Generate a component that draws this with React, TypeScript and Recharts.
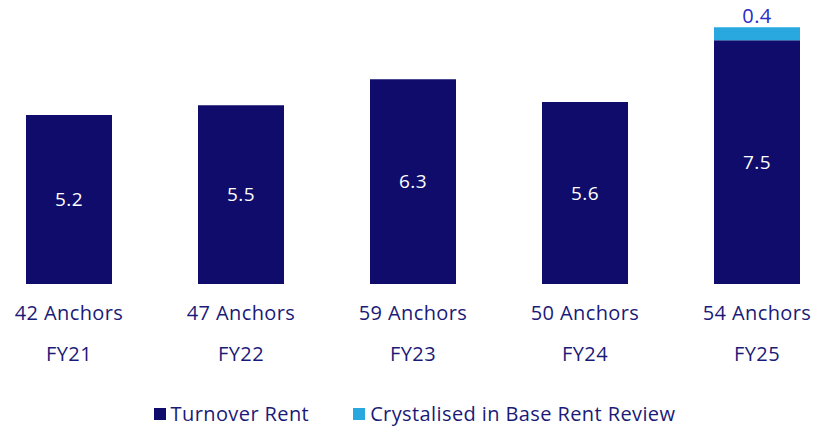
import React from "react";
import { BarChart, Bar, XAxis, YAxis, LabelList } from "recharts";

const categories = ["FY21", "FY22", "FY23", "FY24", "FY25"];
const anchors = ["42 Anchors", "47 Anchors", "59 Anchors", "50 Anchors", "54 Anchors"];
const turnoverRent = [5.2, 5.5, 6.3, 5.6, 7.5];
const crystalised: (number | null)[] = [null, null, null, null, 0.4];

const NAVY = "#0f0c6b";
const LIGHT = "#29a8e0";
const TEXT = "#1b1a78";
const FONT = "'Open Sans', 'Noto Sans', sans-serif";

const data = categories.map((c, i) => ({
  name: c,
  anchors: anchors[i],
  turnover: turnoverRent[i],
  crystalised: crystalised[i],
}));

const Tick = (props: any) => {
  const { x, y, payload, index } = props;
  return (
    <g>
      <text x={x} y={y + 36} textAnchor="middle" fill={TEXT} fontSize={20} letterSpacing={0.4} fontFamily={FONT}>
        {anchors[index]}
      </text>
      <text x={x} y={y + 77} textAnchor="middle" fill={TEXT} fontSize={20} letterSpacing={0.4} fontFamily={FONT}>
        {payload.value}
      </text>
    </g>
  );
};

export default function App() {
  return (
    <div style={{ position: "fixed", left: 0, top: 0, width: 829, height: 427, overflow: "hidden", background: "#fff" }}>
      <div style={{ position: "absolute", left: -17, top: 0 }}>
        <BarChart width={860} height={427} data={data} margin={{ top: 24, right: 0, left: 0, bottom: 0 }}>
          <XAxis dataKey="name" axisLine={false} tickLine={false} tickSize={0} tickMargin={0} height={143} tick={<Tick />} interval={0} />
          <YAxis hide domain={[0, 8]} />
          <Bar dataKey="turnover" stackId="a" fill={NAVY} barSize={86} isAnimationActive={false}>
            <LabelList dataKey="turnover" position="center" fill="#ffffff" fontSize={19} letterSpacing={0.4} fontFamily={FONT} />
          </Bar>
          <Bar dataKey="crystalised" stackId="a" fill={LIGHT} barSize={86} isAnimationActive={false}>
            <LabelList dataKey="crystalised" position="top" offset={4} fill="#2b2bc8" fontSize={20} letterSpacing={0.4} fontFamily={FONT} />
          </Bar>
        </BarChart>
      </div>
      <div style={{ position: "absolute", left: 0, top: 401, width: 829, display: "flex", justifyContent: "center", fontFamily: FONT, fontSize: 20, letterSpacing: 0.4, color: TEXT, lineHeight: "26px" }}>
        <div style={{ display: "flex", alignItems: "center", marginRight: 44 }}>
          <span style={{ display: "inline-block", width: 12, height: 12, background: NAVY, marginRight: 5 }} />
          <span>Turnover Rent</span>
        </div>
        <div style={{ display: "flex", alignItems: "center" }}>
          <span style={{ display: "inline-block", width: 12, height: 12, background: LIGHT, marginRight: 5 }} />
          <span>Crystalised in Base Rent Review</span>
        </div>
      </div>
    </div>
  );
}
